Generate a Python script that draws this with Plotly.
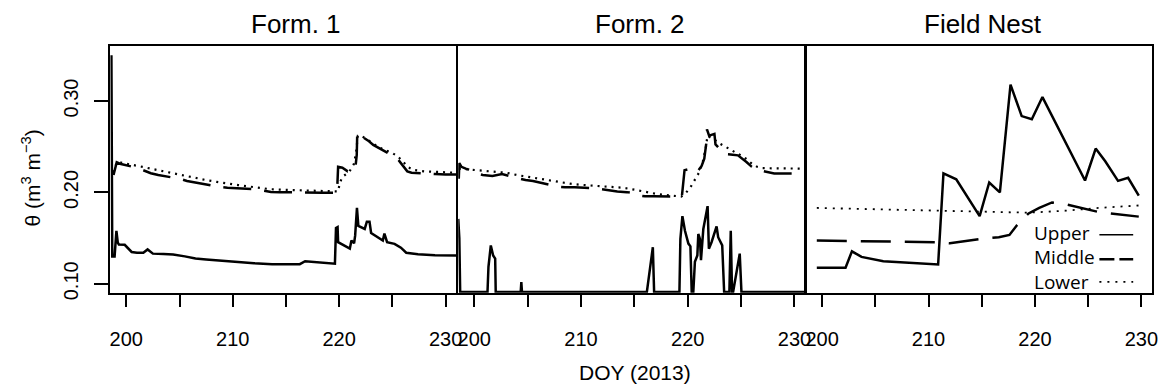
import plotly.graph_objects as go

# ---------------- data ----------------
# Form. 1
f1_up_x = [198.6, 198.68, 198.9, 199.07, 199.2, 199.3, 199.85, 200.5, 201.0, 201.6, 202.0, 202.2, 202.5,
           203.5, 204.4, 205.5, 206.5, 207.5, 208.3, 209.0, 210.6, 212.0, 213.7, 216.3, 216.8, 218.0,
           219.6, 219.7, 219.85, 219.9, 221.0, 221.15, 221.4, 221.5, 221.67, 221.8, 222.4, 222.6, 222.85,
           223.0, 223.6, 224.1, 224.25, 224.5, 225.2, 225.8, 226.3, 227.4, 229.0, 231.0]
f1_up_y = [0.35, 0.13, 0.130, 0.158, 0.145, 0.143, 0.1427, 0.1348, 0.134, 0.134, 0.1376, 0.136, 0.133,
           0.1325, 0.132, 0.130, 0.1276, 0.1265, 0.1258, 0.1247, 0.1233, 0.1225, 0.1215, 0.1215, 0.1247, 0.1235,
           0.122, 0.161, 0.162, 0.1455, 0.1384, 0.1473, 0.1444, 0.1527, 0.183, 0.1634, 0.160, 0.168, 0.168,
           0.1556, 0.151, 0.1473, 0.155, 0.1455, 0.1437, 0.1395, 0.134, 0.1323, 0.1312, 0.131]

f1_mid_x = [198.8, 199.0, 199.1, 199.5, 200.0, 200.6, 201.2, 201.8, 202.3, 203.0, 203.6, 204.3, 205.0,
            205.7, 206.4, 207.2, 208.0, 208.8, 209.5, 210.3, 211.2, 212.0, 212.8, 213.6, 214.4, 215.2,
            216.0, 216.8, 217.6, 218.4, 219.2, 219.8, 219.9, 220.3, 220.8, 221.2, 221.5, 221.65, 221.7,
            222.0, 222.4, 222.8, 223.2, 223.6, 224.0, 224.4, 224.8, 225.2, 225.6, 226.0, 226.4, 226.8,
            227.3, 228.0, 229.0, 230.0, 231.0]
f1_mid_y = [0.219, 0.228, 0.233, 0.231, 0.230, 0.228, 0.226, 0.223, 0.221, 0.219, 0.218, 0.2165, 0.215,
            0.2125, 0.211, 0.209, 0.207, 0.206, 0.205, 0.2046, 0.2045, 0.2035, 0.202, 0.2005, 0.2003, 0.200,
            0.200, 0.1995, 0.1997, 0.1995, 0.1995, 0.1995, 0.228, 0.227, 0.223, 0.2235, 0.2245, 0.241, 0.2656,
            0.262, 0.259, 0.256, 0.252, 0.2495, 0.2465, 0.244, 0.2415, 0.239, 0.235, 0.229, 0.223, 0.2215,
            0.221, 0.2205, 0.2200, 0.2195, 0.2195]

f1_low_x = [198.8, 199.1, 199.5, 200.5, 201.5, 202.5, 203.5, 204.5, 205.5, 206.5, 207.5, 208.5, 209.5,
            210.5, 211.5, 212.5, 213.5, 214.5, 215.5, 216.5, 217.5, 218.5, 219.5, 219.9, 220.05, 220.3,
            220.95, 221.4, 221.6, 221.75, 222.0, 222.5, 223.0, 223.5, 224.0, 224.5, 225.0, 225.5, 226.0,
            226.5, 227.0, 228.0, 229.0, 230.0, 231.0]
f1_low_y = [0.222, 0.233, 0.2325, 0.2305, 0.228, 0.2255, 0.223, 0.2205, 0.218, 0.216, 0.2135, 0.2115, 0.2095,
            0.208, 0.2065, 0.205, 0.2035, 0.203, 0.2025, 0.202, 0.2015, 0.201, 0.2005, 0.201, 0.210, 0.217,
            0.2226, 0.2315, 0.245, 0.262, 0.262, 0.259, 0.255, 0.251, 0.248, 0.2455, 0.243, 0.2395, 0.2335,
            0.2275, 0.2245, 0.2230, 0.2225, 0.222, 0.2215]

# Form. 2
f2_up_x = [198.5, 198.6, 198.68, 201.24, 201.33, 201.55, 201.77, 201.96, 202.01, 204.35, 204.41, 204.47,
           216.17, 216.48, 216.73, 216.85, 219.22, 219.31, 219.5, 219.74, 220.06, 220.25, 220.37, 220.52,
           220.67, 220.9, 220.99, 221.14, 221.24, 221.46, 221.86, 221.98, 222.23, 222.7, 222.85, 223.23,
           223.41, 223.9, 224.03, 224.15, 224.25, 224.87, 225.03, 231.0]
f2_up_y = [0.171, 0.150, 0.091, 0.091, 0.1186, 0.142, 0.131, 0.1276, 0.091, 0.091, 0.1018, 0.091,
           0.091, 0.1204, 0.140, 0.091, 0.091, 0.149, 0.174, 0.158, 0.144, 0.141, 0.091, 0.091,
           0.124, 0.131, 0.1545, 0.149, 0.1258, 0.160, 0.185, 0.1384, 0.1455, 0.1627, 0.151, 0.142,
           0.091, 0.091, 0.158, 0.091, 0.091, 0.133, 0.091, 0.091]

f2_mid_x = [198.55, 198.6, 198.8, 199.2, 199.8, 200.15, 200.8, 201.7, 202.6, 203.3, 203.9, 204.8, 205.5,
            206.2, 207.0, 207.6, 208.5, 209.4, 210.3, 211.0, 211.7, 212.5, 213.4, 214.3, 215.0, 215.5,
            216.0, 216.8, 217.6, 218.4, 219.3, 219.45, 219.7, 220.3, 220.9, 221.3, 221.55, 221.75, 221.8,
            222.0, 222.5, 222.6, 223.0, 223.4, 224.0, 224.7, 225.5, 226.0, 226.6, 227.3, 228.1, 229.0,
            230.0, 231.0]
f2_mid_y = [0.215, 0.232, 0.228, 0.226, 0.224, 0.2208, 0.219, 0.218, 0.220, 0.218, 0.216, 0.2135, 0.2125,
            0.211, 0.2085, 0.2065, 0.2055, 0.2055, 0.2054, 0.2048, 0.204, 0.2025, 0.201, 0.2003, 0.199, 0.1965,
            0.1957, 0.1957, 0.1955, 0.1955, 0.1955, 0.1955, 0.2243, 0.226, 0.2226, 0.229, 0.237, 0.255, 0.269,
            0.262, 0.264, 0.2525, 0.2475, 0.242, 0.2415, 0.2405, 0.2333, 0.228, 0.2243, 0.2225, 0.2208, 0.2208,
            0.2208, 0.2208]

f2_low_x = [198.55, 199.0, 200.0, 201.0, 202.0, 203.0, 204.0, 205.0, 206.0, 207.0, 208.0, 209.0, 210.0,
            211.0, 212.0, 213.0, 214.0, 215.0, 216.0, 217.0, 218.0, 219.0, 219.4, 219.8, 220.3, 220.7,
            221.1, 221.4, 221.7, 221.85, 222.2, 222.6, 223.0, 223.5, 224.0, 224.5, 225.0, 225.5, 226.0,
            226.5, 227.0, 228.0, 229.0, 230.0, 231.0]
f2_low_y = [0.226, 0.2255, 0.2245, 0.2235, 0.2225, 0.2215, 0.219, 0.217, 0.2155, 0.2135, 0.2115, 0.2095, 0.2083,
            0.2075, 0.2065, 0.2055, 0.205, 0.203, 0.2005, 0.1985, 0.197, 0.1957, 0.1955, 0.199, 0.2065, 0.2145,
            0.2226, 0.233, 0.2495, 0.262, 0.260, 0.257, 0.2535, 0.250, 0.247, 0.2435, 0.2405, 0.2365, 0.2315,
            0.228, 0.2265, 0.2262, 0.226, 0.226, 0.226]

# Field Nest
fn_up_x = [199.5, 202.2, 202.8, 203.7, 205.75, 208.2, 210.9, 211.4, 212.6, 214.8, 215.7, 216.7, 217.7,
           218.75, 219.7, 220.7, 224.7, 225.7, 226.6, 227.8, 228.75, 229.75]
fn_up_y = [0.1176, 0.1176, 0.1355, 0.1294, 0.1247, 0.1233, 0.1212, 0.2208, 0.2143, 0.174, 0.2108, 0.200, 0.318,
           0.2835, 0.280, 0.3043, 0.213, 0.248, 0.234, 0.2126, 0.216, 0.1964]
fn_mid_x = [199.5, 210.7, 212.0, 214.8, 216.6, 217.6, 218.3, 219.4, 220.4, 221.6, 223.0, 226.0, 229.75]
fn_mid_y = [0.1473, 0.1455, 0.1444, 0.149, 0.151, 0.1534, 0.164, 0.177, 0.183, 0.189, 0.1867, 0.1785, 0.1735]
fn_low_x = [199.5, 205.0, 210.7, 215.0, 219.4, 222.9, 226.0, 229.75]
fn_low_y = [0.183, 0.1815, 0.1803, 0.179, 0.1778, 0.180, 0.183, 0.1857]

panel_titles = ["Form. 1", "Form. 2", "Field Nest"]
legend_labels = ["Upper", "Middle", "Lower"]
x_tick_vals = [200, 205, 210, 215, 220, 225, 230]
x_tick_text = ["200", "", "210", "", "220", "", "230"]
y_tick_vals = [0.10, 0.20, 0.30]
y_tick_text = ["0.10", "0.20", "0.30"]

# ---------------- figure ----------------
W, H = 1171, 391
FONT = "Liberation Sans, Arial, Helvetica, sans-serif"
TICK_SIZE = 20

def px(x):
    return x / W

def py(y):
    return 1 - y / H

fig = go.Figure()

styles_12 = {
    "up": dict(color="black", width=2.5),
    "mid": dict(color="black", width=2.5, dash="28px,13px"),
    "low": dict(color="black", width=2.2, dash="2px,5px"),
}
styles_3 = {
    "up": dict(color="black", width=2.5),
    "mid": dict(color="black", width=2.5, dash="30px,14px"),
    "low": dict(color="black", width=1.8, dash="2px,6px"),
}

panels = [
    ("x", "y", styles_12, (f1_up_x, f1_up_y), (f1_mid_x, f1_mid_y), (f1_low_x, f1_low_y)),
    ("x2", "y2", styles_12, (f2_up_x, f2_up_y), (f2_mid_x, f2_mid_y), (f2_low_x, f2_low_y)),
    ("x3", "y3", styles_3, (fn_up_x, fn_up_y), (fn_mid_x, fn_mid_y), (fn_low_x, fn_low_y)),
]
for xa, ya, st, up, mid, low in panels:
    for key, (xs, ys) in (("low", low), ("mid", mid), ("up", up)):
        fig.add_trace(go.Scatter(x=xs, y=ys, mode="lines", line=st[key], xaxis=xa, yaxis=ya,
                                 showlegend=False, hoverinfo="skip"))

x_domains = [(110, 458), (460, 809), (810, 1158)]
y_dom = [py(298), py(47)]
x_range = [198.5, 231.0]
y_range = [0.0903, 0.360]

layout = dict(
    width=W, height=H, autosize=False,
    margin=dict(l=0, r=0, t=0, b=0, pad=0),
    paper_bgcolor="white", plot_bgcolor="white",
    font=dict(family=FONT, size=20, color="black"),
    showlegend=False,
)
for i, (a, b) in enumerate(x_domains):
    sfx = "" if i == 0 else str(i + 1)
    layout["xaxis" + sfx] = dict(
        domain=[px(a), px(b)], range=x_range, anchor="y" + sfx,
        tickmode="array", tickvals=x_tick_vals, ticktext=x_tick_text,
        ticks="outside", ticklen=12, tickwidth=2, tickcolor="black",
        showline=True, mirror=True, linewidth=2, linecolor="black",
        showgrid=False, zeroline=False, tickfont=dict(family=FONT, size=TICK_SIZE),
        ticklabelstandoff=15,
    )
    ycfg = dict(
        domain=y_dom, range=y_range, anchor="x" + sfx,
        showline=True, mirror=True, linewidth=2, linecolor="black",
        showgrid=False, zeroline=False,
    )
    if i == 0:
        ycfg.update(tickmode="array", tickvals=y_tick_vals, ticktext=y_tick_text,
                    ticks="outside", ticklen=14, tickwidth=2, tickcolor="black",
                    tickangle=-90, tickfont=dict(family=FONT, size=TICK_SIZE), ticklabelstandoff=8)
    else:
        ycfg.update(showticklabels=False, ticks="")
    layout["yaxis" + sfx] = ycfg

fig.update_layout(**layout)

annotations = []
title_centers = [297, 643, 988]
for t, cx in zip(panel_titles, title_centers):
    annotations.append(dict(text=t, x=px(cx), y=py(24), xref="paper", yref="paper",
                            xanchor="center", yanchor="middle", showarrow=False,
                            font=dict(family=FONT, size=26)))
annotations.append(dict(text="DOY (2013)", x=px(638), y=py(379), xref="paper", yref="paper",
                        xanchor="center", yanchor="middle", showarrow=False,
                        font=dict(family=FONT, size=21)))
annotations.append(dict(text="θ (m<sup>3</sup> m<sup>−3</sup>)", x=px(30), y=py(181),
                        xref="paper", yref="paper", xanchor="center", yanchor="middle",
                        textangle=-90, showarrow=False, font=dict(family=FONT, size=21)))

LEG_FONT = "Open Sans, Noto Sans, sans-serif"
leg_y = [237, 262, 287]
for lab, yy in zip(legend_labels, leg_y):
    annotations.append(dict(text=lab, x=px(1037), y=py(yy), xref="paper", yref="paper",
                            xanchor="left", yanchor="middle", showarrow=False,
                            font=dict(family=LEG_FONT, size=19)))
fig.update_layout(annotations=annotations)

leg_line_styles = [dict(color="black", width=1.6),
                   dict(color="black", width=2.5, dash="15px,5px"),
                   dict(color="black", width=1.6, dash="2px,6px")]
for yy, ls in zip([239, 264, 287], leg_line_styles):
    fig.add_shape(type="line", xref="paper", yref="paper",
                  x0=px(1105), x1=px(1139), y0=py(yy), y1=py(yy), line=ls)

fig.write_html("out.html")
